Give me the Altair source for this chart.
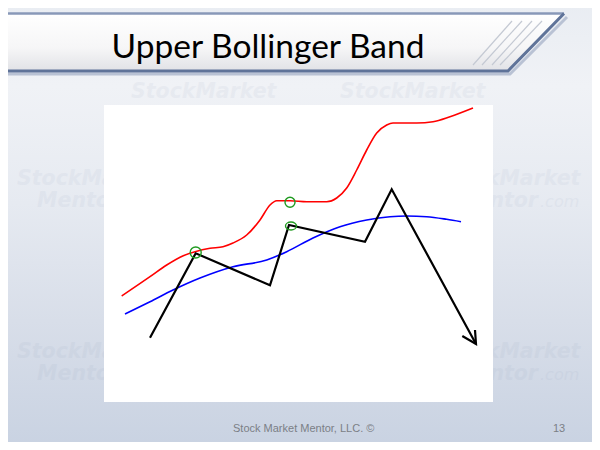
import altair as alt
import pandas as pd

# ---- chart data (x: time units, y: price units) ----
upper_x = [17.7, 46, 62.7, 79.3, 91, 106, 119, 129, 142.7, 156, 166, 172.7, 186,
           202.7, 222.7, 232.7, 242.7, 252.7, 262.7, 272.7, 282.7, 289, 312.7, 329, 346, 369]
upper_y = [106, 125.3, 137, 146.3, 150.3, 153.7, 155.3, 159, 167, 182, 197, 201.3, 201.3,
           200.3, 200.3, 204, 214, 232, 252, 269, 277, 279, 279, 280.3, 285.3, 294]

mid_x = [21, 46, 69, 96, 129, 162.7, 182.7, 209, 236, 262.7, 286, 302.7, 322.7, 342.7, 357]
mid_y = [88, 100.3, 112, 124, 135.3, 142, 150.3, 164, 175.3, 182, 185.3, 186, 185.3, 182.7, 180.3]

price_x = [46, 91.7, 166, 185, 261, 287.7, 372]
price_y = [64.3, 148.7, 116.7, 177, 160.3, 212.7, 58]

arrow_x = [358.3, 372, 371]
arrow_y = [66, 58, 72]

touch_x = [91.7, 186]
touch_y = [149.5, 199.7]
touch_size = [121, 100]
near_x = [187]
near_y = [176]

title_text = "Upper Bollinger Band"
footer_text = "Stock Market Mentor, LLC. \u00a9"
page_no = "13"

# ---- slide decoration geometry ----
W, H = 389, 297
xs = alt.Scale(domain=[0, W], nice=False, zero=False)
ys = alt.Scale(domain=[0, H], nice=False, zero=False)


def X(f):
    return alt.X(f, type="quantitative", scale=xs, axis=None)


def Y(f):
    return alt.Y(f, type="quantitative", scale=ys, axis=None)


bg_df = pd.DataFrame({"x0": [-110], "x1": [510], "y0": [-60], "y1": [410]})
box_df = pd.DataFrame({"x0": [0], "x1": [W], "y0": [0], "y1": [H]})
banner_df = pd.DataFrame({"x": [-110, 404, 460], "top": [389, 389, 389], "bot": [331, 331, 389]})
top_edge = pd.DataFrame({"x": [-110, 460], "y": [388.5, 388.5], "i": [0, 1]})
low_edge = pd.DataFrame({"x": [460, 404, -110], "y": [388.5, 331, 331], "i": [0, 1, 2]})
shadow_edge = pd.DataFrame({"x": [463, 406, -110], "y": [385, 328, 328], "i": [0, 1, 2]})
hatch_df = pd.DataFrame({"x0": [408, 418, 428, 438], "y0": [381, 381, 381, 381],
                         "x1": [369, 378, 388, 396], "y1": [337, 337, 337, 337]})

# watermark logo words that sit fully inside the slide (start x, baseline y, with second line?)
wm_spots = [(27, 304, False), (236, 304, False),
            (-87, 217, True), (331, 217, True),
            (-87, 44, True), (331, 44, True)]
wm1, wm2, wm3 = [], [], []
for sx, by, two in wm_spots:
    wm1.append({"x": sx, "y": by, "t": "StockMarket"})
    if two:
        wm2.append({"x": sx + 103, "y": by - 22, "t": "Mentor"})
        wm3.append({"x": sx + 105, "y": by - 22, "t": ".com"})
wm1, wm2, wm3 = pd.DataFrame(wm1), pd.DataFrame(wm2), pd.DataFrame(wm3)

bg = alt.Chart(bg_df).mark_rect(
    fill=alt.Gradient(gradient="linear", x1=0, x2=0, y1=0, y2=1, stops=[
        alt.GradientStop(color="#e8ecf2", offset=0),
        alt.GradientStop(color="#f0f2f6", offset=0.2),
        alt.GradientStop(color="#e6eaf1", offset=0.45),
        alt.GradientStop(color="#d8dee9", offset=0.7),
        alt.GradientStop(color="#c7d1e1", offset=1)])
).encode(x=X("x0"), x2="x1", y=Y("y0"), y2="y1")

wm_color = "#7f8fb0"
wm_op = 0.07
w1 = alt.Chart(wm1).mark_text(font="DejaVu Sans", fontSize=20.5, fontWeight="bold", fontStyle="italic",
                              align="left", baseline="alphabetic", color=wm_color, opacity=wm_op
                              ).encode(x=X("x"), y=Y("y"), text="t:N")
w2 = alt.Chart(wm2).mark_text(font="DejaVu Sans", fontSize=20.5, fontWeight="bold", fontStyle="italic",
                              align="right", baseline="alphabetic", color=wm_color, opacity=wm_op
                              ).encode(x=X("x"), y=Y("y"), text="t:N")
w3 = alt.Chart(wm3).mark_text(font="DejaVu Sans", fontSize=16, fontStyle="italic",
                              align="left", baseline="alphabetic", color=wm_color, opacity=wm_op
                              ).encode(x=X("x"), y=Y("y"), text="t:N")

box = alt.Chart(box_df).mark_rect(fill="#ffffff").encode(x=X("x0"), x2="x1", y=Y("y0"), y2="y1")

banner = alt.Chart(banner_df).mark_area(
    fill=alt.Gradient(gradient="linear", x1=0, x2=0, y1=0, y2=1, stops=[
        alt.GradientStop(color="#ffffff", offset=0),
        alt.GradientStop(color="#f6f6f7", offset=0.6),
        alt.GradientStop(color="#e1e2e6", offset=1)])
).encode(x=X("x"), y=Y("top"), y2="bot")

shadow = alt.Chart(shadow_edge).mark_line(color="#b9c2d4", strokeWidth=3).encode(
    x=X("x"), y=Y("y"), order="i:Q")
edge_top = alt.Chart(top_edge).mark_line(color="#8898b8", strokeWidth=2.5).encode(
    x=X("x"), y=Y("y"), order="i:Q")
edge_low = alt.Chart(low_edge).mark_line(color="#5f7399", strokeWidth=3).encode(
    x=X("x"), y=Y("y"), order="i:Q")
hatch = alt.Chart(hatch_df).mark_rule(color="#c4c9d3", strokeWidth=1.2).encode(
    x=X("x0"), y=Y("y0"), x2="x1", y2="y1")

title = alt.Chart(pd.DataFrame({"x": [164], "y": [344.5], "t": [title_text]})).mark_text(
    font="Lato", fontSize=33.5, color="#000000", align="center", baseline="alphabetic"
).encode(x=X("x"), y=Y("y"), text="t:N")

footer = alt.Chart(pd.DataFrame({"x": [129, 449], "y": [-30, -30], "t": [footer_text, page_no]})).mark_text(
    font="Liberation Sans", fontSize=11, color="#7b7f86", align="left", baseline="alphabetic"
).encode(x=X("x"), y=Y("y"), text="t:N")

# ---- data layers ----
upper = alt.Chart(pd.DataFrame({"x": upper_x, "y": upper_y})).mark_line(
    color="#ff0000", strokeWidth=1.6, interpolate="monotone").encode(x=X("x"), y=Y("y"))
mid = alt.Chart(pd.DataFrame({"x": mid_x, "y": mid_y})).mark_line(
    color="#0000ff", strokeWidth=1.6, interpolate="monotone").encode(x=X("x"), y=Y("y"))
price = alt.Chart(pd.DataFrame({"x": price_x, "y": price_y, "i": range(len(price_x))})).mark_line(
    color="#000000", strokeWidth=2.2).encode(x=X("x"), y=Y("y"), order="i:Q")
arrow = alt.Chart(pd.DataFrame({"x": arrow_x, "y": arrow_y, "i": range(len(arrow_x))})).mark_line(
    color="#000000", strokeWidth=2.2).encode(x=X("x"), y=Y("y"), order="i:Q")
touch = alt.Chart(pd.DataFrame({"x": touch_x, "y": touch_y, "s": touch_size})).mark_point(
    shape="circle", filled=False, color="#1f9a1f", strokeWidth=1.4, opacity=1
).encode(x=X("x"), y=Y("y"), size=alt.Size("s:Q", scale=None, legend=None))
near = alt.Chart(pd.DataFrame({"x": near_x, "y": near_y})).mark_point(
    shape="M-1,0A1,0.72,0,1,0,1,0A1,0.72,0,1,0,-1,0Z", filled=False, color="#1f9a1f",
    strokeWidth=1.4, opacity=1, size=121).encode(x=X("x"), y=Y("y"))

chart = alt.layer(
    bg, w1, w2, w3, box, shadow, banner, hatch, edge_top, edge_low, title, footer,
    upper, mid, price, arrow, touch, near
).properties(
    width=W, height=H,
    padding={"left": 96, "top": 97, "right": 99, "bottom": 40},
    autosize=alt.AutoSizeParams(type="none"),
).configure_view(stroke=None).configure(background="#ffffff")

chart.save("out.html", embed_options={"renderer": "svg", "actions": False})
